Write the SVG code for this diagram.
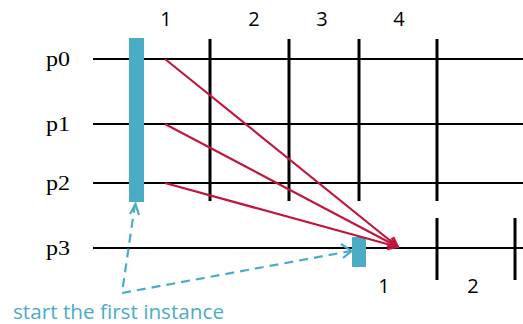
<svg xmlns="http://www.w3.org/2000/svg" width="523" height="324" viewBox="0 0 523 324">
<style>
.h{stroke:#000;stroke-width:2}
.v{stroke:#000;stroke-width:3}
.lab{font-family:"Liberation Serif",serif;font-size:20px;fill:#000}
.num{font-family:"Open Sans","Noto Sans",sans-serif;font-size:20px;fill:#000}
.red{stroke:#C0163C;stroke-width:2.2;fill:none}
.blu{stroke:#4BACC6;stroke-width:2.2;fill:none;stroke-dasharray:9,6}
.bar{fill:#4BACC6}
</style>
<defs>
<marker id="ar" viewBox="0 0 12 12" refX="11" refY="6" markerWidth="12" markerHeight="12" markerUnits="userSpaceOnUse" orient="auto">
<path d="M1,1 L11,6 L1,11" fill="none" stroke="#C0163C" stroke-width="2"/>
</marker>
</defs>
<g id="grid">
<line class="h" x1="93" y1="59" x2="523" y2="59"/>
<line class="h" x1="93" y1="124" x2="523" y2="124"/>
<line class="h" x1="93" y1="183" x2="523" y2="183"/>
<line class="h" x1="93" y1="248" x2="523" y2="248"/>
<line class="v" x1="210" y1="39" x2="210" y2="201"/>
<line class="v" x1="289" y1="39" x2="289" y2="201"/>
<line class="v" x1="359" y1="39" x2="359" y2="201"/>
<line class="v" x1="437" y1="39" x2="437" y2="201"/>
<line class="v" x1="437" y1="218" x2="437" y2="280"/>
<line class="v" x1="515" y1="218" x2="515" y2="280"/>
</g>
<g id="labels">
<text class="lab" x="46" y="66" textLength="24" lengthAdjust="spacingAndGlyphs">p0</text>
<text class="lab" x="46" y="131" textLength="24" lengthAdjust="spacingAndGlyphs">p1</text>
<text class="lab" x="46" y="190" textLength="24" lengthAdjust="spacingAndGlyphs">p2</text>
<text class="lab" x="46" y="255" textLength="24" lengthAdjust="spacingAndGlyphs">p3</text>
<text class="num" x="166" y="26" text-anchor="middle">1</text>
<text class="num" x="254" y="26" text-anchor="middle">2</text>
<text class="num" x="322" y="26" text-anchor="middle">3</text>
<text class="num" x="399" y="26" text-anchor="middle">4</text>
<text class="num" x="384" y="293" text-anchor="middle">1</text>
<text class="num" x="473" y="293" text-anchor="middle">2</text>
</g>
<g id="instance1">
<rect class="bar" x="129" y="38" width="15" height="164"/>
</g>
<g id="instance2">
<rect class="bar" x="352" y="237" width="14" height="30"/>
</g>
<g id="connectors">
<line class="red" x1="165" y1="59" x2="398" y2="247" marker-end="url(#ar)"/>
<line class="red" x1="165" y1="124" x2="398" y2="247" marker-end="url(#ar)"/>
<line class="red" x1="165" y1="183" x2="398" y2="247" marker-end="url(#ar)"/>
<polyline class="blu" points="135,204 122,293 351,251"/>
<path d="M130,214 L135.5,204 L139,215" fill="none" stroke="#4BACC6" stroke-width="2.2"/>
<path d="M341,244 L351.5,251 L343,258" fill="none" stroke="#4BACC6" stroke-width="2.2"/>
</g>
<g id="note">
<text x="13" y="319" font-family="Open Sans, Noto Sans, sans-serif" font-size="20" fill="#4BACC6" textLength="211" lengthAdjust="spacingAndGlyphs">start the first instance</text>
</g>
</svg>
